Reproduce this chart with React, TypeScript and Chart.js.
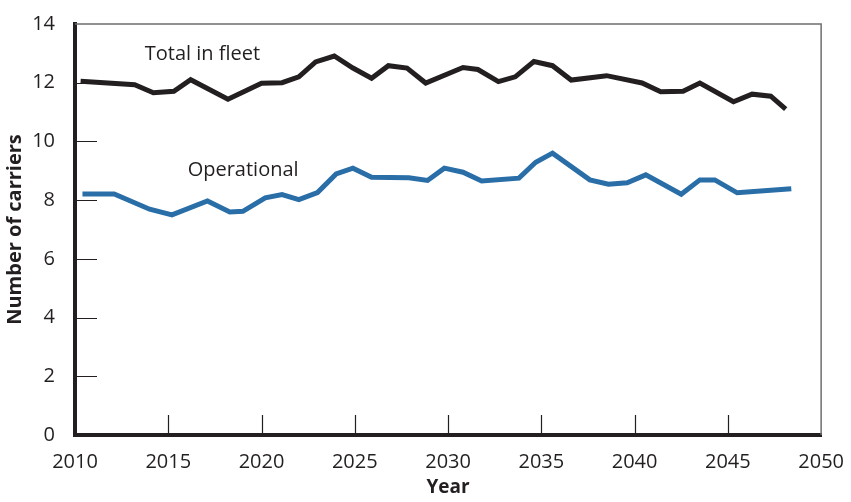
import React, { useEffect, useRef } from "react";
import { Chart, registerables } from "chart.js";

Chart.register(...registerables);

const fleetYears = [2010.3, 2013.2, 2014.2, 2015.3, 2016.2, 2018.2, 2020.0, 2021.1, 2022.0, 2022.9, 2023.9, 2024.9, 2025.9, 2026.8, 2027.8, 2028.8, 2030.8, 2031.6, 2032.7, 2033.6, 2034.6, 2035.6, 2036.6, 2038.5, 2040.4, 2041.4, 2042.6, 2043.5, 2045.3, 2046.3, 2047.3, 2048.1];
const fleetValues = [12.05, 11.93, 11.66, 11.71, 12.1, 11.44, 11.98, 12.0, 12.2, 12.71, 12.91, 12.5, 12.15, 12.58, 12.5, 11.99, 12.52, 12.45, 12.04, 12.2, 12.72, 12.58, 12.09, 12.24, 11.99, 11.69, 11.71, 11.99, 11.35, 11.61, 11.54, 11.1];

const opYears = [2010.4, 2012.1, 2014.0, 2015.2, 2017.1, 2018.3, 2019.0, 2020.2, 2021.1, 2022.0, 2023.0, 2024.0, 2024.9, 2025.9, 2027.9, 2028.9, 2029.8, 2030.8, 2031.8, 2033.8, 2034.7, 2035.6, 2037.6, 2038.6, 2039.6, 2040.6, 2042.5, 2043.5, 2044.3, 2045.5, 2048.4];
const opValues = [8.21, 8.21, 7.69, 7.5, 7.97, 7.6, 7.62, 8.08, 8.19, 8.02, 8.26, 8.89, 9.09, 8.78, 8.76, 8.67, 9.09, 8.95, 8.65, 8.75, 9.29, 9.6, 8.69, 8.54, 8.59, 8.86, 8.2, 8.69, 8.69, 8.25, 8.39];

const xTickYears = [2015, 2020, 2025, 2030, 2035, 2040, 2045];
const yTickValues = [2, 4, 6, 8, 10, 12];

const seriesLabels = [
  { text: "Total in fleet", x: 2013.74, y: 12.79 },
  { text: "Operational", x: 2016.04, y: 8.82 },
];

const TEXT = "#231f20";
const FONT = "'Open Sans', 'Noto Sans', sans-serif";

const framePlugin = {
  id: "frameAndTicks",
  afterDatasetsDraw(chart: any) {
    const { ctx, chartArea, scales } = chart;
    const { left, right, top, bottom } = chartArea;
    ctx.save();
    ctx.strokeStyle = "#6d6e71";
    ctx.lineWidth = 1.5;
    ctx.beginPath();
    ctx.moveTo(left, top);
    ctx.lineTo(right, top);
    ctx.lineTo(right, bottom);
    ctx.stroke();
    ctx.strokeStyle = TEXT;
    ctx.lineWidth = 1.2;
    ctx.beginPath();
    for (const v of yTickValues) {
      const y = Math.round(scales.y.getPixelForValue(v)) + 0.5;
      ctx.moveTo(left, y);
      ctx.lineTo(left + 22, y);
    }
    for (const yr of xTickYears) {
      const x = Math.round(scales.x.getPixelForValue(yr)) + 0.5;
      ctx.moveTo(x, bottom);
      ctx.lineTo(x, bottom - 20);
    }
    ctx.stroke();
    ctx.fillStyle = TEXT;
    ctx.font = `20px ${FONT}`;
    ctx.textAlign = "left";
    ctx.textBaseline = "alphabetic";
    for (const l of seriesLabels) {
      ctx.fillText(l.text, scales.x.getPixelForValue(l.x), scales.y.getPixelForValue(l.y));
    }
    ctx.restore();
  },
};

export default function App() {
  const ref = useRef<HTMLCanvasElement | null>(null);
  useEffect(() => {
    document.body.style.margin = "0";
    const canvas = ref.current!;
    const chart = new Chart(canvas, {
      type: "line",
      data: {
        datasets: [
          {
            label: "Total in fleet",
            data: fleetYears.map((x, i) => ({ x, y: fleetValues[i] })),
            borderColor: "#231f20",
            borderWidth: 5,
            pointRadius: 0,
            tension: 0,
            borderJoinStyle: "miter",
            borderCapStyle: "butt",
          },
          {
            label: "Operational",
            data: opYears.map((x, i) => ({ x, y: opValues[i] })),
            borderColor: "#2a6ea8",
            borderWidth: 5,
            pointRadius: 0,
            tension: 0,
            borderJoinStyle: "miter",
            borderCapStyle: "butt",
          },
        ],
      },
      options: {
        animation: false,
        responsive: false,
        maintainAspectRatio: false,
        layout: { padding: { top: 19, right: 28, left: 0, bottom: 0 } },
        plugins: { legend: { display: false }, tooltip: { enabled: false }, title: { display: false } },
        scales: {
          x: {
            type: "linear",
            min: 2010,
            max: 2050,
            grid: { display: false },
            border: { display: true, color: TEXT, width: 4 },
            ticks: { stepSize: 5, padding: 7, color: TEXT, font: { family: FONT, size: 20 }, maxRotation: 0, callback: (v: any) => String(v) },
            title: { display: true, text: "Year", color: TEXT, font: { family: FONT, size: 19, weight: "bold" }, padding: { top: 0, bottom: 3 } },
            afterFit: (s: any) => { s.height = 67; },
          },
          y: {
            type: "linear",
            min: 0,
            max: 14,
            grid: { display: false },
            border: { display: true, color: TEXT, width: 4 },
            ticks: { stepSize: 2, padding: 12, color: TEXT, font: { family: FONT, size: 20 } },
            title: { display: true, text: "Number of carriers", color: TEXT, font: { family: FONT, size: 20, weight: "bold" }, padding: { top: 3, bottom: 0 } },
            afterFit: (s: any) => { s.width = 75; },
          },
        },
      },
      plugins: [framePlugin],
    });
    return () => chart.destroy();
  }, []);
  return <canvas ref={ref} width={851} height={502} style={{ display: "block", width: 851, height: 502 }} />;
}
